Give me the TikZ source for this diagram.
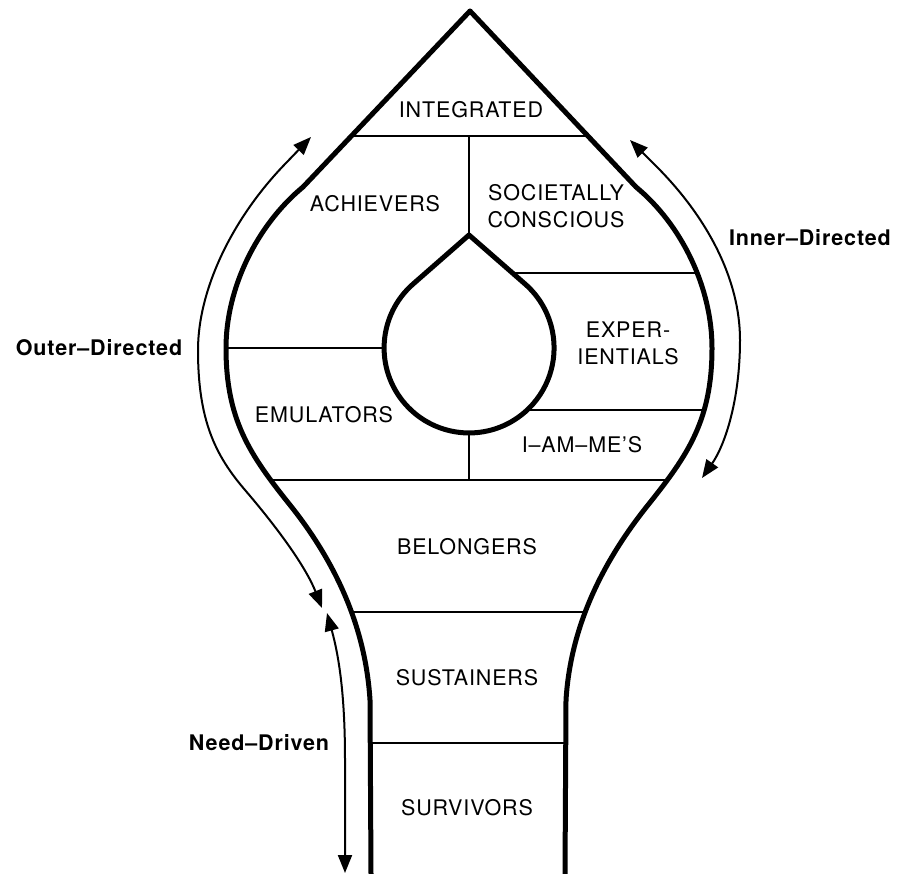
\documentclass[tikz,border=0pt]{standalone}
\usepackage{fontspec}
\setmainfont{TeX Gyre Heros}[LetterSpace=4]
\usetikzlibrary{arrows.meta}
\def\outerpathdef{(565,874) -- (566,700) .. controls (571,620) and (608,555) .. (648,505) .. controls (688,455) and (712,420) .. (712,348) .. controls (712,288) and (682,225) .. (636,187) -- (470,11) -- (303,187) .. controls (257,225) and (226,288) .. (226,348) .. controls (226,420) and (250,455) .. (290,505) .. controls (330,555) and (365,620) .. (370,700) -- (371,874)}
\begin{document}
\begin{tikzpicture}[x=1pt,y=-1pt,
  seg/.style={font=\fontsize{21.5}{27}\selectfont, inner sep=0pt, align=center},
  side/.style={font=\fontsize{21.5}{26}\selectfont\bfseries, inner sep=0pt},
  boundary/.style={line width=5pt, line join=round},
  divider/.style={line width=1.4pt},
  flow/.style={line width=2pt, {Triangle[length=18pt,width=14pt]}-{Triangle[length=18pt,width=14pt]}}]
\fill[white] (0,0) rectangle (899,874);
\useasboundingbox (0,0) rectangle (899,874);

% dividing lines, clipped to the outer outline
\begin{scope}
  \clip \outerpathdef -- (371,890) -- (565,890) -- cycle;
  \draw[divider] (0,136) -- (899,136);
  \draw[divider] (0,348) -- (384,348);
  \draw[divider] (512.4,273) -- (899,273);
  \draw[divider] (527,410) -- (899,410);
  \draw[divider] (0,480) -- (899,480);
  \draw[divider] (0,612) -- (899,612);
  \draw[divider] (0,743) -- (899,743);
\end{scope}
\draw[divider] (469,136) -- (469,235);
\draw[divider] (469,433) -- (469,480);

% outer outline
\draw[boundary] \outerpathdef;

% inner drop
\draw[boundary] (469,235) -- (413.1,284) arc[start angle=228.8, end angle=-48.8, radius=85] -- cycle;

% arrows
\draw[flow] (311,137) -- (287,162) .. controls (232,218) and (198,290) .. (198,350) .. controls (198,420) and (215,455) .. (245,490) .. controls (275,525) and (305,565) .. (322,608);
\draw[flow] (327,613) .. controls (340,660) and (345,700) .. (345,760) -- (345,873);
\draw[flow] (630,140) -- (656,166) .. controls (708,218) and (740,280) .. (740,340) .. controls (740,400) and (725,445) .. (702,478);

% segment labels
\node[seg] (integrated) at (471,110) {INTEGRATED};
\node[seg] (achievers) at (375,204) {ACHIEVERS};
\node[seg] (societally) at (556,206) {SOCIETALLY\\CONSCIOUS};
\node[seg] (experientials) at (628,343) {EXPER-\\IENTIALS};
\node[seg] (emulators) at (324,415) {EMULATORS};
\node[seg] (iamme) at (582,445) {I–AM–ME’S};
\node[seg] (belongers) at (467,547) {BELONGERS};
\node[seg] (sustainers) at (467,678) {SUSTAINERS};
\node[seg] (survivors) at (467,808) {SURVIVORS};

% side labels
\node[side] (outer) at (99,348) {Outer–Directed};
\node[side] (inner) at (810,238) {Inner–Directed};
\node[side] (need) at (259,743) {Need–Driven};
\end{tikzpicture}
\end{document}
